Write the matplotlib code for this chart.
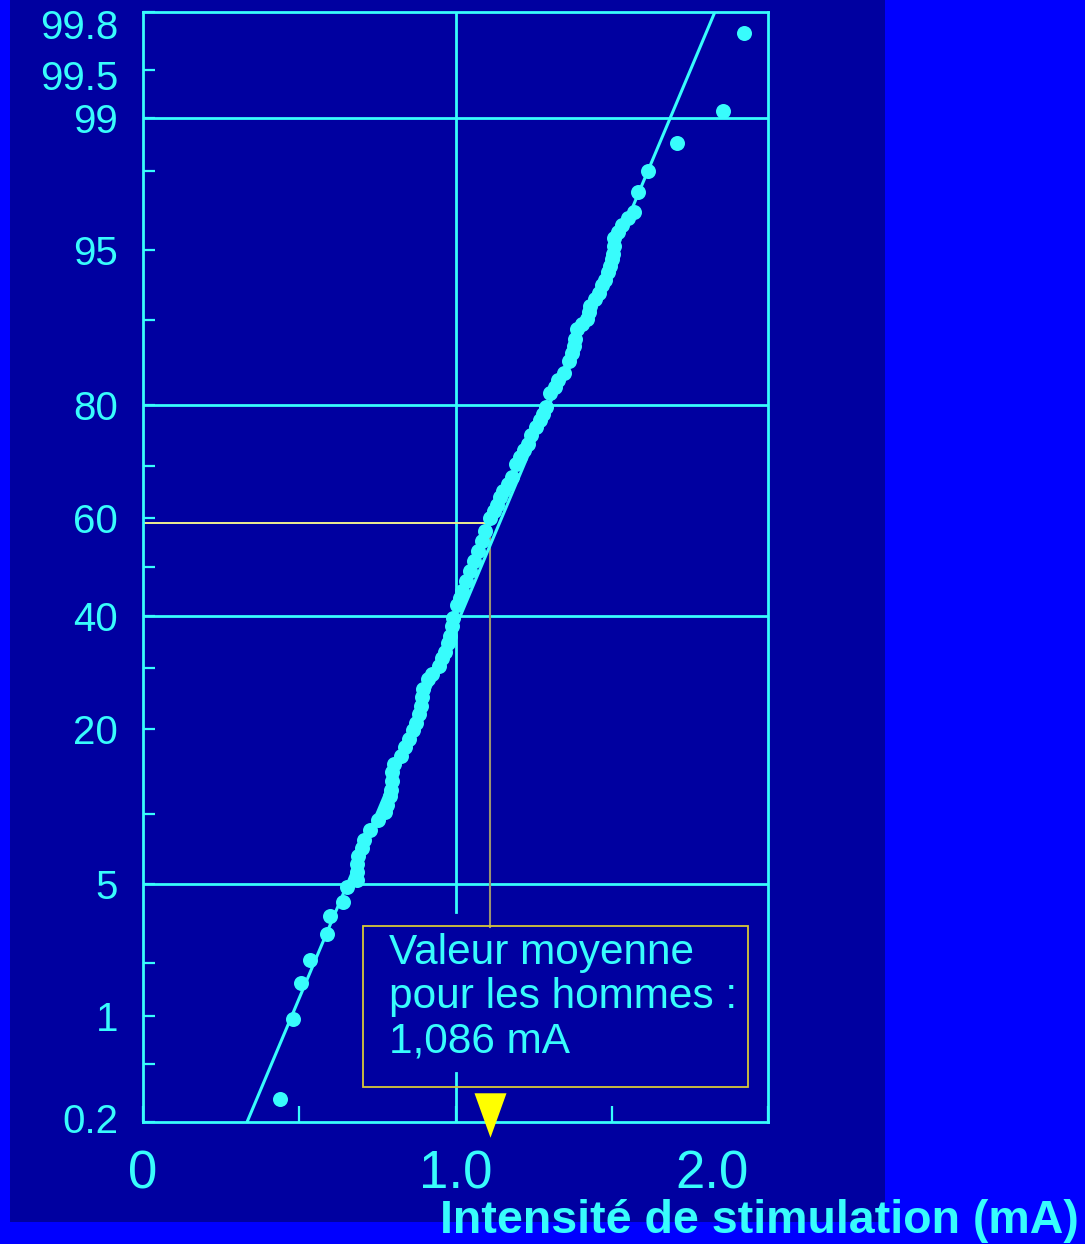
import numpy as np
import matplotlib
matplotlib.use("Agg")
import matplotlib.pyplot as plt
import matplotlib.transforms as mtransforms
from matplotlib.patches import Rectangle
from statistics import NormalDist

plt.rcParams['font.family'] = ['Liberation Sans', 'DejaVu Sans']

# stimulation current (mA) vs cumulative frequency (%)
current_mA = [0.438, 0.480, 0.506, 0.534, 0.589, 0.598, 0.640, 0.653,
              0.685, 0.685, 0.685, 0.688, 0.701, 0.707, 0.726, 0.752, 0.774, 0.781,
              0.790, 0.794, 0.797, 0.797, 0.803, 0.826, 0.838, 0.851, 0.864, 0.874,
              0.883, 0.890, 0.893, 0.896, 0.912, 0.925, 0.947, 0.957, 0.966, 0.976,
              0.982, 0.989, 0.992, 1.005, 1.014, 1.021, 1.034, 1.046, 1.059, 1.072,
              1.085, 1.094, 1.110, 1.123, 1.133, 1.142, 1.152, 1.168, 1.181, 1.194,
              1.206, 1.219, 1.232, 1.242, 1.258, 1.270, 1.280, 1.290, 1.302, 1.318,
              1.328, 1.347, 1.363, 1.373, 1.379, 1.382, 1.389, 1.405, 1.421, 1.427,
              1.430, 1.446, 1.459, 1.469, 1.478, 1.488, 1.494, 1.501, 1.504, 1.507,
              1.507, 1.520, 1.533, 1.552, 1.571,
              1.584, 1.616, 1.709, 1.856, 1.923]
cum_pct = [0.29, 0.95, 1.54, 2.09, 2.86, 3.53, 4.11, 4.86,
           5.22, 5.68, 6.19, 6.68, 7.27, 7.86, 8.66, 9.50, 10.2, 10.9,
           11.7, 12.4, 13.4, 14.4, 15.3, 16.3, 17.5, 18.6, 19.9, 21.0,
           22.3, 23.6, 25.0, 26.4, 28.1, 29.0, 30.4, 31.8, 33.0, 34.6,
           36.1, 37.9, 39.5, 42.1, 43.6, 45.0, 47.1, 49.2, 51.2, 53.3,
           55.4, 57.5, 60.1, 61.5, 62.7, 64.1, 65.4, 66.6, 67.9, 70.3,
           71.5, 72.8, 73.8, 75.3, 76.6, 77.7, 78.6, 79.7, 81.6, 82.5,
           83.4, 84.3, 85.7, 86.6, 87.4, 88.1, 89.1, 89.6, 90.1, 90.7,
           91.2, 91.8, 92.2, 92.8, 93.2, 93.7, 94.1, 94.5, 94.8, 95.2,
           95.6, 95.9, 96.2, 96.5, 96.7,
           97.4, 98.0, 98.6, 99.1, 99.72]

# fitted line (Henry line), ends on the frame
fit_mA = [0.333, 1.830]
fit_pct = [0.2, 99.8]

y_ticks = [0.2, 0.5, 1, 2, 5, 10, 20, 30, 40, 50, 60, 70, 80, 90, 95, 98, 99, 99.5, 99.8]
y_ticklabels = ['0.2', '', '1', '', '5', '', '20', '', '40', '', '60', '', '80', '', '95', '', '99', '99.5', '99.8']
y_grid = [5, 40, 80, 99]
x_ticks = [0, 0.5, 1.0, 1.5, 2.0]
x_ticklabels = ['0', '', '1.0', '', '2.0']

mean_mA = 1.11      # where the mean marker sits on the chart
mean_pct = 59
box_top_pct = 3.1
note = "Valeur moyenne\npour les hommes :\n1,086 mA"

CYAN = '#38FCFC'
NAVY = '#0000A0'
BLUE = '#0000FF'

nd = NormalDist()


def probit(p):
    p = np.clip(np.asarray(p, dtype=float), 1e-4, 100 - 1e-4)
    return np.vectorize(lambda v: nd.inv_cdf(v / 100.0), otypes=[float])(p)


def inv_probit(z):
    return np.vectorize(lambda v: nd.cdf(v) * 100.0, otypes=[float])(np.asarray(z, dtype=float))


def shift(txt, dx, dy):
    # nudge a tick label by some pixels
    txt.set_transform(txt.get_transform() + mtransforms.ScaledTranslation(dx / 100, dy / 100, fig.dpi_scale_trans))


fig = plt.figure(figsize=(10.85, 12.44), dpi=100, facecolor=BLUE)
fig.patches.append(Rectangle((10 / 1085, 1 - 1222 / 1244), 875 / 1085, 1222 / 1244,
                             transform=fig.transFigure, facecolor=NAVY, edgecolor='none', zorder=-1))

ax = fig.add_axes([143 / 1085, 1 - 1122 / 1244, 625 / 1085, 1110 / 1244])
ax.set_zorder(2)
ax.set_facecolor(NAVY)
ax.set_yscale('function', functions=(probit, inv_probit))
ax.set_xlim(0, 2)
ax.set_ylim(0.2, 99.8)

for s in ax.spines.values():
    s.set_color(CYAN)
    s.set_linewidth(2)

# grid
for g in y_grid:
    ax.axhline(g, color=CYAN, lw=2, zorder=1)
ax.axvline(1.0, ymin=0.189, ymax=1, color=CYAN, lw=2, zorder=1)
ax.axvline(1.0, ymin=0, ymax=0.044, color=CYAN, lw=2, zorder=1)

# fitted line and data
ax.plot(fit_mA, fit_pct, color=CYAN, lw=2.2, zorder=3)
ax.plot(current_mA, cum_pct, 'o', color=CYAN, ms=10.8, mec='none', zorder=4)

# reading of the mean
ax.plot([0, mean_mA], [mean_pct, mean_pct], color='#EEEE90', lw=1.4, zorder=2)
ax.plot([mean_mA, mean_mA], [mean_pct - 0.8, box_top_pct], color='#9A9270', lw=1.5, zorder=2)
ax.add_patch(Rectangle((0.352, 0.0315), 0.616, 0.145, transform=ax.transAxes,
                       facecolor='none', edgecolor='#D8C838', lw=1.3, zorder=2))
ax.text(0.3936, 0.1703, note, transform=ax.transAxes, color=CYAN, fontsize=30.5,
        va='top', ha='left', linespacing=1.13, zorder=5)
tri = [(-0.36, 0.5), (0.36, 0.5), (0, -0.5)]
ax.plot([mean_mA], [0.006], marker=tri, ms=32, color='#FFFF00', mec='none',
        transform=ax.get_xaxis_transform(), clip_on=False, zorder=6)

# ticks
ax.set_yticks(y_ticks)
ax.set_yticklabels(y_ticklabels)
ax.yaxis.set_minor_locator(matplotlib.ticker.NullLocator())
ax.tick_params(axis='y', direction='in', length=8.5, width=1.6, color=CYAN,
               labelcolor=CYAN, labelsize=29, pad=18)
ax.set_xticks(x_ticks)
ax.set_xticklabels(x_ticklabels)
ax.tick_params(axis='x', direction='in', length=11.5, width=1.6, color=CYAN,
               labelcolor=CYAN, labelsize=38, pad=20)
for lab in ax.get_xticklabels():
    lab.set_family(['Liberation Sans Narrow', 'Liberation Sans'])

ylabs = ax.get_yticklabels()
shift(ylabs[-1], 0, -12)
shift(ylabs[-2], 0, -5)
shift(ylabs[0], 0, 4)
shift(ax.get_xticklabels()[-1], -56, 0)

fig.text(440 / 1085, 1 - 1233 / 1244, "Intensité de stimulation (mA)", color=CYAN,
         fontsize=33.5, fontweight='bold', ha='left', va='baseline', zorder=3)

fig.savefig("out.png", dpi=100, facecolor=BLUE)
